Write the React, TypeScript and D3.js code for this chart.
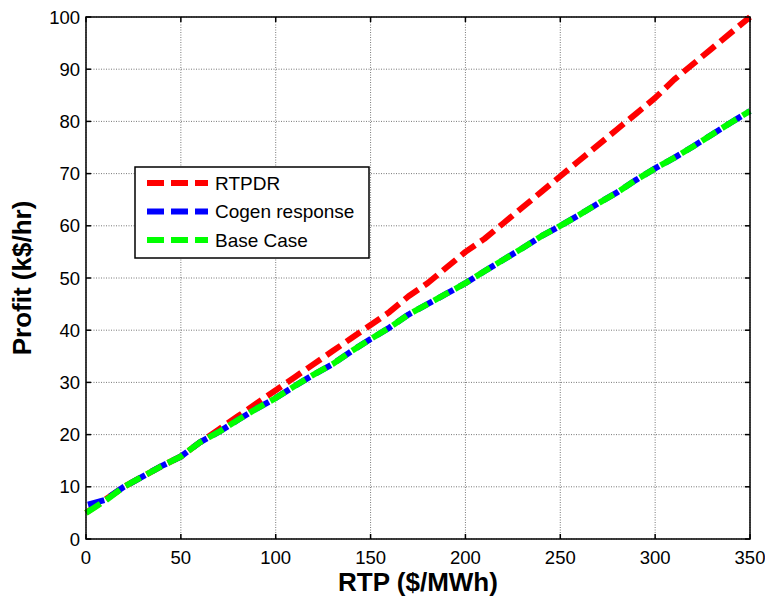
import React from "react";
import * as d3 from "d3";

const rtp = [0, 10, 20, 30, 40, 50, 60, 70, 80, 90, 100, 110, 120, 130, 140, 150, 160, 170, 180, 190, 200, 210, 220, 230, 240, 250, 260, 270, 280, 290, 300, 310, 320, 330, 340, 350];
const rtpdr = [5, 7.5, 10, 12, 14, 15.8, 18.5, 21, 23.5, 26, 28.5, 31, 33.5, 36, 38.5, 41, 43.5, 46.5, 49, 52, 55, 57.5, 60.5, 63.5, 66.5, 69.5, 72.5, 75.5, 78.5, 81.5, 84.5, 88, 91, 94, 97, 100];
const cogen = [6.5, 7.5, 10, 12, 14, 15.8, 18.5, 20.5, 22.8, 25, 27, 29.3, 31.5, 33.5, 36, 38.3, 40.5, 43, 45, 47, 49, 51.3, 53.5, 55.7, 58, 60, 62.1, 64.3, 66.4, 68.8, 71, 73, 75.2, 77.5, 79.8, 82];
const baseCase = [5, 7.3, 10, 12, 14, 15.8, 18.5, 20.5, 22.8, 25, 27, 29.3, 31.5, 33.5, 36, 38.3, 40.5, 43, 45, 47, 49, 51.3, 53.5, 55.7, 58, 60, 62.1, 64.3, 66.4, 68.8, 71, 73, 75.2, 77.5, 79.8, 82];
const xTicks = [0, 50, 100, 150, 200, 250, 300, 350];
const yTicks = [0, 10, 20, 30, 40, 50, 60, 70, 80, 90, 100];
const seriesNames = ["RTPDR", "Cogen response", "Base Case"];
const seriesColors = ["#ff0000", "#0000ff", "#00ff00"];

export default function App() {
  const W = 765, H = 600;
  const left = 86, right = 750, top = 17, bottom = 539;
  const x = d3.scaleLinear().domain([0, 350]).range([left, right]);
  const y = d3.scaleLinear().domain([0, 100]).range([bottom, top]);
  const line = d3.line<number>().x((_, i) => x(rtp[i])).y((d) => y(d));
  const series = [rtpdr, cogen, baseCase];
  const font = "'Liberation Sans', Arial, sans-serif";
  const dash = "17 7";
  const offsets = [0, -2, 0];
  const tl = 5;
  const lg = { x: 135, y: 167, w: 234, h: 91 };
  return (
    <div style={{ position: "fixed", left: 0, top: 0, width: W, height: H, overflow: "hidden" }}>
      <svg width={W} height={H} style={{ display: "block", background: "#fff" }} fontFamily={font}>
        <rect x={0} y={0} width={W} height={H} fill="#fff" />
        {xTicks.map((t) => (
          <line key={"gx" + t} x1={x(t)} x2={x(t)} y1={top} y2={bottom} stroke="#555" strokeWidth={0.8} strokeDasharray="1 1.5" />
        ))}
        {yTicks.map((t) => (
          <line key={"gy" + t} x1={left} x2={right} y1={y(t)} y2={y(t)} stroke="#555" strokeWidth={0.8} strokeDasharray="1 1.5" />
        ))}
        {xTicks.map((t) => (
          <g key={"tx" + t}>
            <line x1={x(t)} x2={x(t)} y1={bottom} y2={bottom - tl} stroke="#000" strokeWidth={1.5} />
            <line x1={x(t)} x2={x(t)} y1={top} y2={top + tl} stroke="#000" strokeWidth={1.5} />
            <text x={x(t)} y={564} fontSize={18.5} textAnchor="middle" fill="#000">{t}</text>
          </g>
        ))}
        {yTicks.map((t) => (
          <g key={"ty" + t}>
            <line x1={left} x2={left + tl} y1={y(t)} y2={y(t)} stroke="#000" strokeWidth={1.5} />
            <line x1={right} x2={right - tl} y1={y(t)} y2={y(t)} stroke="#000" strokeWidth={1.5} />
            <text x={80} y={y(t)} dy="0.36em" fontSize={18.5} textAnchor="end" fill="#000">{t}</text>
          </g>
        ))}
        {series.map((s, i) => (
          <path key={"s" + i} d={line(s) || ""} fill="none" stroke={seriesColors[i]} strokeWidth={6} strokeDasharray={dash} strokeDashoffset={offsets[i]} strokeLinejoin="round" />
        ))}
        <rect x={left} y={top} width={right - left} height={bottom - top} fill="none" stroke="#000" strokeWidth={1.5} />
        <rect x={lg.x} y={lg.y} width={lg.w} height={lg.h} fill="#fff" stroke="#000" strokeWidth={1.5} />
        {seriesNames.map((n, i) => {
          const cy = 183 + i * 28.5;
          return (
            <g key={"l" + i}>
              <line x1={147} x2={208} y1={cy} y2={cy} stroke={seriesColors[i]} strokeWidth={6} strokeDasharray="17 7" />
              <text x={215} y={cy} dy="0.36em" fontSize={19} fill="#000">{n}</text>
            </g>
          );
        })}
        <text x={(left + right) / 2} y={591} fontSize={26} fontWeight="bold" textAnchor="middle" fill="#000">RTP ($/MWh)</text>
        <text transform={`translate(31,${(top + bottom) / 2}) rotate(-90)`} fontSize={26} fontWeight="bold" textAnchor="middle" fill="#000">Profit (k$/hr)</text>
      </svg>
    </div>
  );
}
